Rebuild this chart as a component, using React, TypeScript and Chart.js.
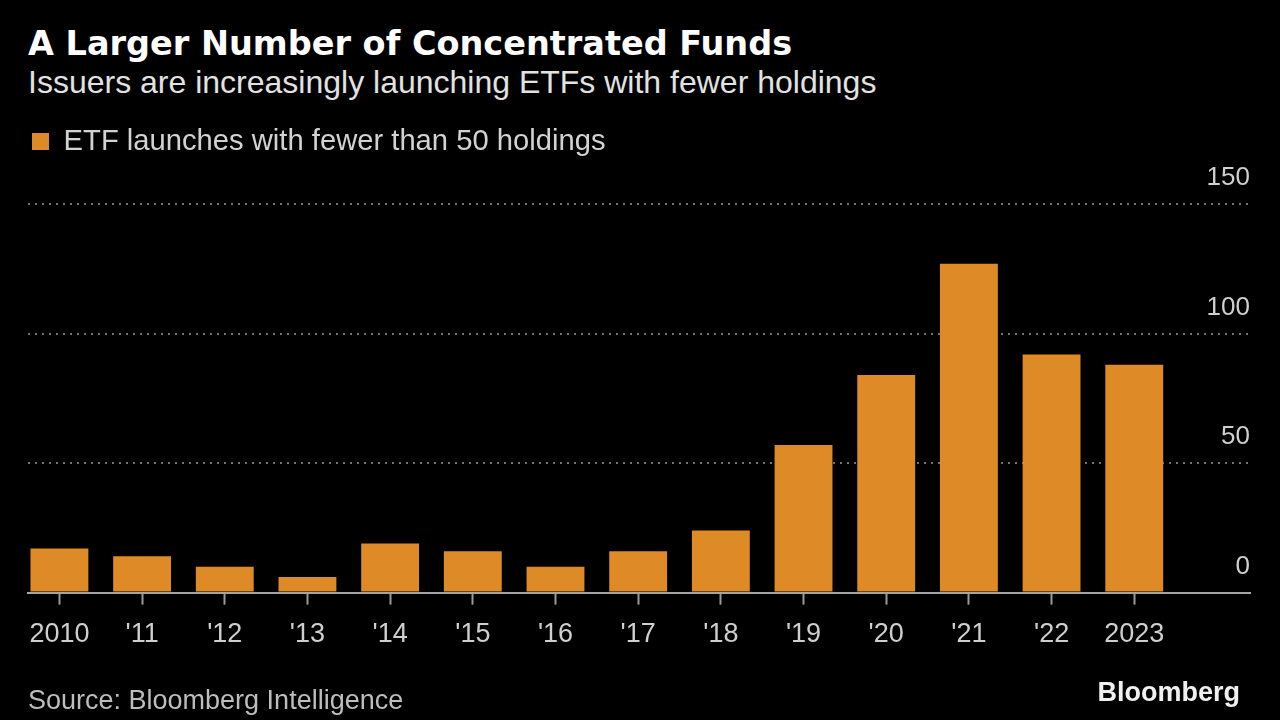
import React, { useEffect, useRef } from 'react';
import { Chart, registerables } from 'chart.js';

Chart.register(...registerables);

const categories = ['2010', "'11", "'12", "'13", "'14", "'15", "'16", "'17", "'18", "'19", "'20", "'21", "'22", '2023'];
const launches = [17, 14, 10, 6, 19, 16, 10, 16, 24, 57, 84, 127, 92, 88];
const yTickValues = [0, 50, 100, 150];
const seriesLabel = 'ETF launches with fewer than 50 holdings';
const titleText = 'A Larger Number of Concentrated Funds';
const subtitleText = 'Issuers are increasingly launching ETFs with fewer holdings';
const sourceText = 'Source: Bloomberg Intelligence';
const brandText = 'Bloomberg';

const FONT = "'Liberation Sans', Arial, sans-serif";
const TITLE_FONT = "'DejaVu Sans', Verdana, sans-serif";
const BAR_COLOR = '#DE8B27';

export default function App() {
  const canvasRef = useRef<HTMLCanvasElement>(null);

  useEffect(() => {
    if (!canvasRef.current) return;
    const legendSpacer = {
      id: 'legendSpacer',
      beforeInit(chart: any) {
        const legend = chart.legend;
        if (!legend) return;
        const origFit = legend.fit;
        legend.fit = function () {
          origFit.call(this);
          this.height += 38;
        };
      },
    };

    const chart = new Chart(canvasRef.current, {
      type: 'bar',
      data: {
        datasets: [
          {
            label: seriesLabel,
            data: launches.map((v, i) => ({ x: i, y: v })),
            backgroundColor: BAR_COLOR,
            borderWidth: 0,
            categoryPercentage: 0.7,
            barPercentage: 1,
          } as any,
        ],
      },
      options: {
        animation: false,
        responsive: true,
        maintainAspectRatio: false,
        layout: { padding: { left: 28, right: 30, top: 123, bottom: 55 } },
        plugins: {
          tooltip: { enabled: false },
          title: { display: false },
          legend: {
            display: true,
            position: 'top',
            align: 'start',
            labels: {
              boxWidth: 17,
              boxHeight: 17,
              padding: 4,
              color: '#d2d2d2',
              font: { size: 29.2, family: FONT },
            },
          },
        },
        scales: {
          x: {
            type: 'linear',
            bounds: 'data',
            offset: false,
            min: -0.38,
            max: 14.4,
            afterBuildTicks: (scale: any) => {
              scale.ticks = categories.map((_, i) => ({ value: i }));
            },
            ticks: {
              autoSkip: false,
              maxRotation: 0,
              padding: 14,
              color: '#cfcfcf',
              font: { size: 27, family: FONT },
              callback: (v: any) => categories[v as number] ?? '',
            },
            grid: {
              offset: false,
              drawOnChartArea: false,
              drawTicks: true,
              tickLength: 12,
              tickWidth: 2,
              tickColor: '#9a9a9a',
            },
            border: { display: true, color: '#a5a5a5', width: 2 },
          },
          y: {
            position: 'right',
            min: 0,
            max: 150,
            afterBuildTicks: (scale: any) => {
              scale.ticks = yTickValues.map((v) => ({ value: v }));
            },
            ticks: {
              mirror: true,
              padding: 0,
              labelOffset: -26,
              crossAlign: 'near',
              color: '#cfcfcf',
              font: { size: 26, family: FONT },
            },
            grid: {
              drawTicks: false,
              lineWidth: 2,
              color: (ctx: any) => (ctx.tick && ctx.tick.value === 0 ? 'rgba(0,0,0,0)' : '#737373'),
            },
            border: { display: false, dash: [2, 5] },
          },
        },
      },
      plugins: [legendSpacer],
    });
    return () => chart.destroy();
  }, []);

  return (
    <div style={{ position: 'fixed', left: 0, top: 0, width: 1280, height: 720, background: '#000', overflow: 'hidden', fontFamily: FONT }}>
      <div style={{ position: 'absolute', left: 28, top: 27, fontSize: 33.5, lineHeight: 1, fontWeight: 700, fontFamily: TITLE_FONT, color: '#ffffff', whiteSpace: 'nowrap' }}>{titleText}</div>
      <div style={{ position: 'absolute', left: 28, top: 66, fontSize: 32, lineHeight: 1, color: '#e2e2e2', whiteSpace: 'nowrap' }}>{subtitleText}</div>
      <div style={{ position: 'absolute', left: 0, top: 0, width: 1280, height: 720 }}>
        <canvas ref={canvasRef} />
      </div>
      <div style={{ position: 'absolute', left: 28, top: 687, fontSize: 27, lineHeight: 1, color: '#bdbdbd', whiteSpace: 'nowrap' }}>{sourceText}</div>
      <div style={{ position: 'absolute', right: 40, top: 679, fontSize: 27, lineHeight: 1, fontWeight: 700, color: '#f0f0f0', whiteSpace: 'nowrap' }}>{brandText}</div>
    </div>
  );
}
